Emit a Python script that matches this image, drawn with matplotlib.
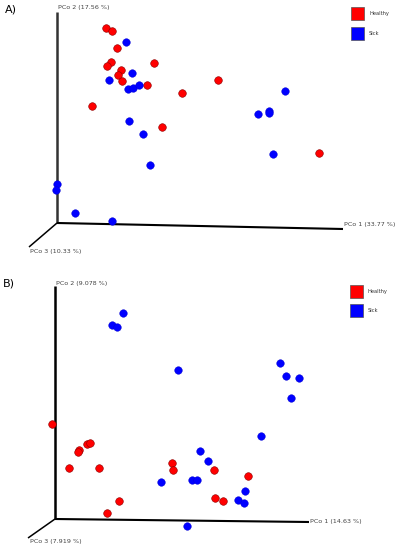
import matplotlib.pyplot as plt
from matplotlib.patches import Rectangle

# projected PCoA coordinates (origin at the axis corner), panel A
a_healthy_x = [49, 55, 60, 54, 50, 97, 64, 61, 65, 90, 125, 35, 105, 161, 262]
a_healthy_y = [195, 192, 175, 161, 157, 160, 153, 148, 142, 138, 130, 117, 96, 143, 70]
a_sick_x = [69, 75, 52, 71, 76, 82, 72, 86, 228, 201, 212, 212, 216, 93, 0, -1, 18, 55]
a_sick_y = [181, 150, 143, 134, 135, 138, 102, 89, 132, 109, 112, 110, 69, 58, 39, 33, 10, 2]

# panel B
b_healthy_x = [-3, 32, 35, 24, 23, 14, 44, 64, 52, 117, 118, 159, 193, 160, 168]
b_healthy_y = [95, 75, 76, 69, 67, 51, 51, 18, 6, 56, 49, 49, 43, 21, 18]
b_sick_x = [68, 57, 62, 123, 225, 231, 244, 236, 206, 145, 153, 106, 137, 142, 190, 183, 189, 132]
b_sick_y = [206, 194, 192, 149, 156, 143, 141, 121, 83, 68, 58, 37, 39, 39, 28, 19, 16, -7]

a_labels = ["PCo 1 (33.77 %)", "PCo 2 (17.56 %)", "PCo 3 (10.33 %)"]
b_labels = ["PCo 1 (14.63 %)", "PCo 2 (9.078 %)", "PCo 3 (7.919 %)"]
groups = ["Healthy", "Sick"]
colors = ["#ff0000", "#0000ff"]

fig = plt.figure(figsize=(3.99, 5.5), dpi=100)
axA = fig.add_axes([0, 275 / 550, 1, 275 / 550])
axB = fig.add_axes([0, 0, 1, 275 / 550])
axA.set_xlim(-57, 342)
axA.set_ylim(-52, 223)
axB.set_xlim(-55, 344)
axB.set_ylim(-31, 244)


def panel(ax, hx, hy, sx, sy, labels, ends, labpos, vcol, letter, legx, legy):
    ax.axis("off")
    x1, y1, y2, x3, y3 = ends
    ax.plot([0, 0], [0, y2], color=vcol, lw=1.8, solid_capstyle="butt")
    ax.plot([0, x1], [0, y1], color="black", lw=1.5, solid_capstyle="butt")
    ax.plot([0, x3], [0, y3], color="black", lw=1.1, solid_capstyle="butt")
    for t, (tx, ty) in zip(labels, labpos):
        ax.text(tx, ty, t, fontsize=4.6, color="#444444", va="center", ha="left")
    ax.scatter(hx, hy, s=30, c=colors[0], edgecolors="#8b0000", linewidths=0.4, zorder=3)
    ax.scatter(sx, sy, s=30, c=colors[1], edgecolors="#0000cc", linewidths=0.3, zorder=3)
    ax.text(-52, y2 + 2, letter, fontsize=8, va="center", ha="left")
    for g, c, yy in zip(groups, colors, legy):
        ax.add_patch(Rectangle((legx, yy - 13), 13, 13, facecolor=c, edgecolor="#555555", lw=0.5))
        ax.text(legx + 18, yy - 6.5, g, fontsize=3.7, color="#333333", va="center", ha="left")


panel(axA, a_healthy_x, a_healthy_y, a_sick_x, a_sick_y, a_labels,
      (286, -6, 211, -28, -24),
      [(287, -1.5), (1, 215.5), (-27, -29)], "#333333", "A)", 294, [216, 196])
panel(axB, b_healthy_x, b_healthy_y, b_sick_x, b_sick_y, b_labels,
      (254, -3, 233, -27, -19),
      [(255, -2), (1, 235), (-25, -23)], "black", "B)", 295, [234, 215])

fig.savefig("out.png", dpi=100, facecolor="white")
